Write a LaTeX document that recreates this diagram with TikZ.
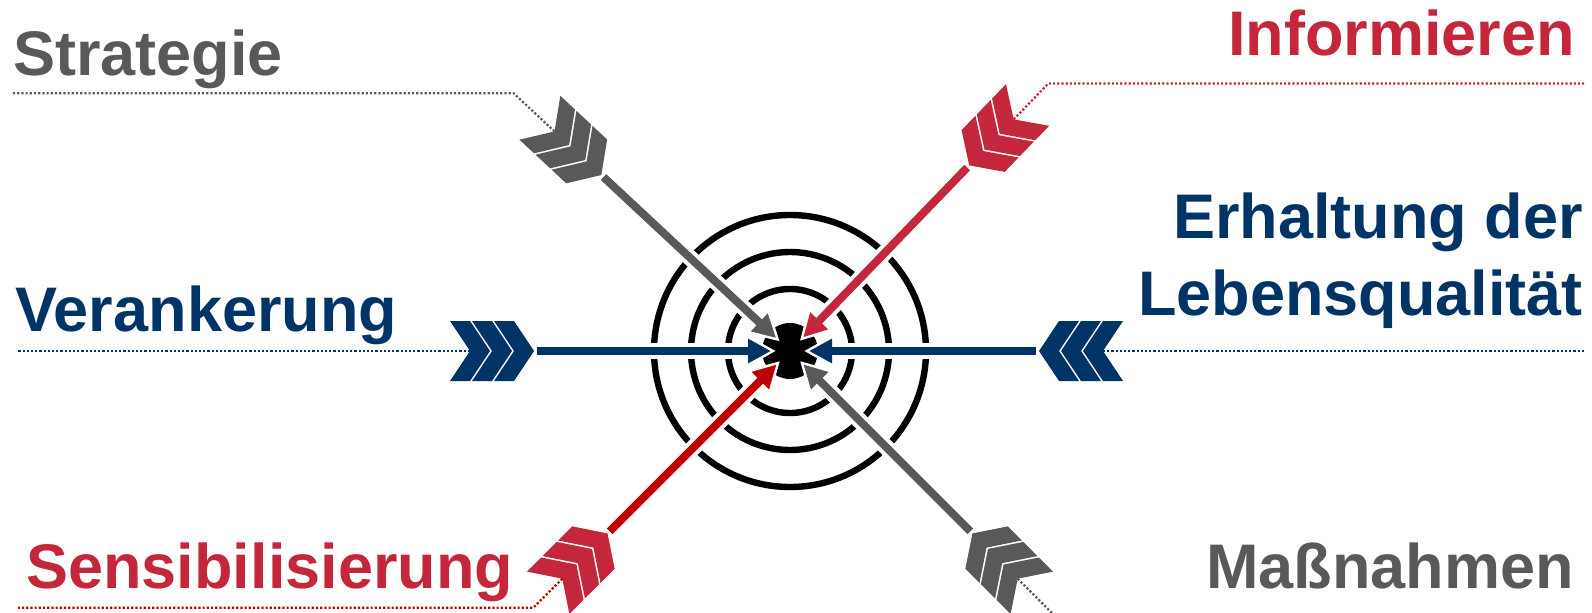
\documentclass[tikz,border=0pt]{standalone}
\usepackage{fontspec}
\setmainfont{Liberation Sans}
\usetikzlibrary{arrows.meta,calc}

\definecolor{grau}{RGB}{89,89,89}
\definecolor{rot}{RGB}{196,38,60}
\definecolor{dunkelrot}{RGB}{192,0,0}
\definecolor{blau}{RGB}{0,51,102}

\tikzset{
  begriff/.style={font=\bfseries\fontsize{31.5}{38.5}\selectfont,inner sep=0pt},
  ring/.style={draw=black,line width=3.2pt},
  halo/.style={draw=white,line width=8pt},
  schaft/.style={line width=4pt},
  punkte/.style={line width=1.1pt,dash pattern=on 1.1pt off 1pt},
}

% drei Federn, Kerbe bei #1, gedreht um #2, Farbe #3
\newcommand{\federn}[3]{%
  \begin{scope}[shift={(#1)},rotate=#2]
    \foreach \k in {0,1,2}
      \fill[#3] ({\k*22},0) -- ({\k*22-20},30) -- ({\k*22},30) -- ({\k*22+20},0)
        -- ({\k*22},-30) -- ({\k*22-20},-30) -- cycle;
  \end{scope}}

\begin{document}
\begin{tikzpicture}[x=0.5pt,y=0.5pt]
\useasboundingbox (0,0) rectangle (1592,612);
\coordinate (c) at (790,261);

% Zielscheibe
\foreach \r in {62,99,136}
  \draw[ring] (c) circle[radius=\r];
\fill (c) circle[radius=28];

% Pfeile
\foreach \winkel/\abst [count=\i] in {137/322,46/322,180/320,0/313,225/322,315/322}{
  \coordinate (n\i) at ($(c)+(\winkel:\abst)$);
  \coordinate (s\i) at ($(c)+(\winkel:{\abst-67})$);
  \coordinate (h\i) at ($(c)+(\winkel:14)$);
  \coordinate (t\i) at ($(c)+(\winkel:19)$);
  \draw[halo,-{Triangle[length=14.5pt,width=15pt]}] (s\i) -- (h\i);
}
\foreach \winkel/\farbe/\schaftfarbe [count=\i] in {137/grau/grau,46/rot/rot,180/blau/blau,0/blau/blau,225/rot/dunkelrot,315/grau/grau}{
  \draw[schaft,\schaftfarbe,-{Triangle[length=11.5pt,width=11.5pt]}] (s\i) -- (t\i);
  \federn{n\i}{\winkel+180}{\farbe}
}

% Begriffe
\node[begriff,grau,anchor=base west] (strategie) at (13,536) {Strategie};
\node[begriff,rot,anchor=base east] (informieren) at (1575,556) {Informieren};
\node[begriff,blau,anchor=base east,align=right] (erhaltung) at (1583,297) {Erhaltung der\\Lebensqualität};
\node[begriff,blau,anchor=base west] (verankerung) at (15,281) {Verankerung};
\node[begriff,rot,anchor=base west] (sensibilisierung) at (26,24) {Sensibilisierung};
\node[begriff,grau,anchor=base east] (massnahmen) at (1574,24) {Maßnahmen};

% gepunktete Linien
\coordinate (k1) at ($(c)+(137:378)$);
\coordinate (k2) at ($(c)+(46:372)$);
\coordinate (k5) at ($(c)+(225:363)$);
\coordinate (k6) at ($(c)+(315:375)$);
\coordinate (e1) at (12,0);
\coordinate (e2) at (1584,0);
\coordinate (e3) at (18,0);
\coordinate (e4) at (1585,0);
\coordinate (e5) at (18,0);
\draw[punkte,grau] (n1) -- (k1) -- (k1 -| e1);
\draw[punkte,rot] (n2) -- (k2) -- (k2 -| e2);
\draw[punkte,blau] (n3) -- (n3 -| e3);
\draw[punkte,blau] (n4) -- (n4 -| e4);
\draw[punkte,dunkelrot] (n5) -- (k5) -- (k5 -| e5);
\draw[punkte,grau] (n6) -- (k6);
\end{tikzpicture}
\end{document}
